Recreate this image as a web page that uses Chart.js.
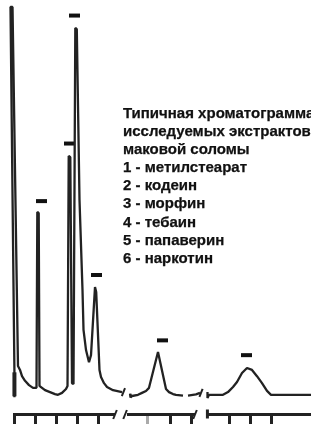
<!DOCTYPE html>
<html>
<head>
<meta charset="utf-8">
<script src="https://cdn.jsdelivr.net/npm/chart.js@4.4.1/dist/chart.umd.min.js"></script>
<style>
  html, body { margin: 0; padding: 0; background: #fff; }
  #wrap { position: relative; width: 311px; height: 426px; overflow: hidden; }
  #legend {
    position: absolute; left: 123px; top: 104px;
    font: bold 15px "Liberation Sans", Arial, sans-serif;
    line-height: 18.1px; color: #111; white-space: nowrap;
    -webkit-text-stroke: 0.25px #111;
  }
</style>
</head>
<body>
<div id="wrap">
  <canvas id="chrom" width="311" height="426"></canvas>
  <div id="legend"></div>
</div>
<script>
// текст подписи
const titleLines = ['Типичная хроматограмма', 'исследуемых экстрактов', 'маковой соломы'];
const peakNames = ['метилстеарат', 'кодеин', 'морфин', 'тебаин', 'папаверин', 'наркотин'];

// хроматограмма: время (усл. ед. по делениям оси) и сигнал (% от макс.)
// null = разрыв шкалы
const retentionTime = [
  0.02, 0.02, -0.167, -0.071, 0.19, 0.286, 0.381, 0.524, 0.714, 0.905,
  1.071, 1.11, 1.176, 1.214, 1.286, 1.476, 1.714, 1.952, 2.095, 2.286,
  2.476, 2.548, 2.605, 2.681, 2.762, 2.833, 2.919, 2.99, 3.119, 3.262,
  3.31, 3.429, 3.571, 3.667, 3.857, 3.914, 4.071, 4.143, 4.286, 4.429,
  4.714, 5.143, 5.3,
  5.524, 5.548, 5.619, 5.905, 6.095, 6.286, 6.429, 6.857, 7.238, 7.381, 7.571, 7.714, 8.048, 8.1,
  8.286, 8.667, 8.857, 8.95,
  9.214, 9.214, 9.286, 9.952, 10.19, 10.429, 10.619, 10.857, 11.095, 11.333, 11.571, 11.81, 12.048, 12.238, 14.143
];
const signal = [
  -0.3, 6.2, 100, 100, 7.7, 6.7, 5.1, 3.9, 2.8, 2.1,
  2.1, 47.3, 47.0, 2.6, 2.3, 1.5, 1.0, 0.5, 0.3, 0.8,
  1.8, 2.6, 61.7, 61.4, 3.3, 3.1, 94.6, 94.3, 50.4, 27.2,
  17.0, 11.8, 8.7, 10.5, 28.0, 26.7, 6.7, 4.9, 3.3, 2.3,
  1.5, 1.0, null,
  0.6, -0.4, 0, 0.3, 0.8, 1.3, 2.1, 11.3, 1.8, 1.0, 0.5, 0.3, 0.1, null,
  0.1, 0.4, 0.8, null,
  1.0, -0.5, 0.3, 0.3, 1.0, 2.3, 3.6, 5.9, 7.2, 6.7, 5.1, 3.3, 1.3, 0.3, 0.3
];

// метка ввода пробы (жирный штрих в начале)
const injectTime = [0.02];
const injectLevel = [3.0];

// метки пиков 1-6
const peakTimes = [1.31, 2.643, 2.881, 3.929, 7.071, 11.071];
const peakMarkLevel = [50.1, 64.9, 97.8, 31.1, 14.3, 10.5];

// деления и разрывы оси
const tickTimes = [0, 1, 2, 3, 4, 6.38, 7.43, 8.43, 10.24, 11.24, 12.24];
const faintTick = 6.38;
const axisParts = [[-0.048, 4.81], [5.38, 8.62], [9.19, 14.2]];
const axisBreaks = [4.81, 5.29, 8.62];
const axisCaps = [9.21];
const traceBreakTimes = [5.21, 8.905];
const traceBreakLevels = [1.0, 0.8];

document.getElementById('legend').innerHTML = titleLines
  .concat(peakNames.map((n, i) => (i + 1) + ' - ' + n))
  .map(s => '<div>' + s + '</div>').join('');

const trace = retentionTime.map((t, i) => ({ x: t, y: signal[i] }));
const marks = peakTimes.map((t, i) => ({ x: t, y: peakMarkLevel[i] }));
const inject = injectTime.map((t, i) => ({ x: t, y: injectLevel[i] }));

function slash(ctx, px, py, h) {
  ctx.beginPath();
  ctx.moveTo(px - h * 0.4, py + h);
  ctx.lineTo(px + h * 0.4, py - h);
  ctx.stroke();
}

const brokenAxis = {
  id: 'brokenAxis',
  afterDraw(chart) {
    const { ctx, chartArea, scales: { x, y } } = chart;
    const ay = chartArea.bottom + 1.5;
    ctx.save();
    ctx.strokeStyle = '#222';
    ctx.lineWidth = 3;
    axisParts.forEach(([a, b]) => {
      ctx.beginPath();
      ctx.moveTo(x.getPixelForValue(a), ay);
      ctx.lineTo(x.getPixelForValue(b), ay);
      ctx.stroke();
    });
    axisCaps.forEach(t => {
      ctx.beginPath();
      ctx.moveTo(x.getPixelForValue(t), ay - 5);
      ctx.lineTo(x.getPixelForValue(t), ay + 4);
      ctx.stroke();
    });
    ctx.lineWidth = 2;
    axisBreaks.forEach(t => slash(ctx, x.getPixelForValue(t), ay, 4.5));
    traceBreakTimes.forEach((t, i) => slash(ctx, x.getPixelForValue(t), y.getPixelForValue(traceBreakLevels[i]), 4));
    ctx.restore();
  }
};

new Chart(document.getElementById('chrom'), {
  type: 'line',
  data: {
    datasets: [
      {
        data: trace, borderColor: '#222', borderWidth: 2.3, pointRadius: 0,
        tension: 0, spanGaps: false, borderJoinStyle: 'bevel', clip: false
      },
      {
        data: marks, showLine: false, pointStyle: 'line', pointRadius: 5.5,
        pointBorderWidth: 4, pointBorderColor: '#111', pointBackgroundColor: '#111'
      },
      {
        data: inject, showLine: false, pointStyle: 'line', rotation: 90, pointRadius: 12,
        pointBorderWidth: 4, pointBorderColor: '#222', pointBackgroundColor: '#222'
      }
    ]
  },
  options: {
    responsive: false,
    animation: false,
    devicePixelRatio: 1,
    events: [],
    layout: { padding: { left: 0, right: 0, top: 0, bottom: 2 }, autoPadding: false },
    plugins: { legend: { display: false }, tooltip: { enabled: false } },
    scales: {
      x: {
        type: 'linear', min: -0.667, max: 14.143,
        afterBuildTicks: axis => { axis.ticks = tickTimes.map(v => ({ value: v })); },
        ticks: { display: false },
        grid: {
          drawOnChartArea: false, drawTicks: true, tickLength: 11,
          tickWidth: 3,
          tickColor: c => (c.tick && c.tick.value === faintTick) ? '#aaa' : '#222'
        },
        border: { display: false }
      },
      y: { display: false, min: -4.37, max: 101.8 }
    }
  },
  plugins: [brokenAxis]
});
</script>
</body>
</html>
